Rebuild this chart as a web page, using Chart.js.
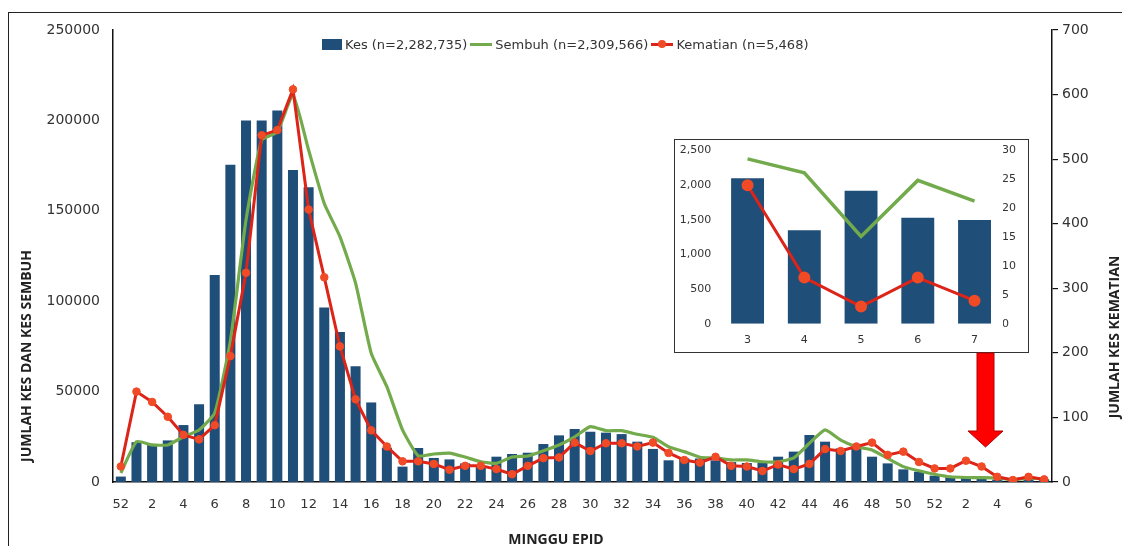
<!DOCTYPE html>
<html>
<head>
<meta charset="utf-8">
<script src="https://cdn.jsdelivr.net/npm/chart.js@4.4.1/dist/chart.umd.min.js"></script>
<style>
html, body { margin: 0; padding: 0; background: #fff; }
#wrap { position: relative; width: 1122px; height: 546px; overflow: hidden; }
#main { position: absolute; left: 0; top: 0; }
#frame { position: absolute; left: 8px; top: 12px; width: 1300px; height: 700px;
         border-left: 1.5px solid #222; border-top: 1.5px solid #222; }
#legend { position: absolute; left: 322px; top: 36px; height: 16px; display: flex; align-items: center;
          font: 13px "DejaVu Sans", sans-serif; color: #333; white-space: nowrap; }
#legend .item { display: flex; align-items: center; margin-right: 3px; }
#legend .sw { position: relative; display: inline-block; margin-right: 3px; }
#inset { position: absolute; left: 674px; top: 139px; width: 355px; height: 214px;
         border: 1.5px solid #333; background: #fff; box-sizing: border-box; overflow: hidden; }
#insetCanvas { position: absolute; left: 0; top: -4px; }
#arrow { position: absolute; left: 0; top: 0; }
</style>
</head>
<body>
<div id="wrap">
  <div id="frame"></div>
  <canvas id="main" width="1122" height="546"></canvas>
  <div id="legend"></div>
  <div id="inset"><canvas id="insetCanvas" width="352" height="215"></canvas></div>
  <svg id="arrow" width="1122" height="546">
    <polygon points="977,353 994,353 994,431 1003,431 985.5,447 968,431 977,431" fill="#ff0000" stroke="#b30000" stroke-width="1"/>
  </svg>
</div>
<script>
// minggu epid: 52 (tahun lepas), 1-52, 1-7
var weeks = ['52',
  '1','2','3','4','5','6','7','8','9','10','11','12','13','14','15','16','17','18','19','20',
  '21','22','23','24','25','26','27','28','29','30','31','32','33','34','35','36','37','38','39','40',
  '41','42','43','44','45','46','47','48','49','50','51','52',
  '1','2','3','4','5','6','7'];

var kes = [3000,
  22000, 20500, 23000, 31500, 43000, 114500, 175500, 200000, 200000, 205500,
  172500, 163000, 96500, 83000, 64000, 44000, 19000, 8500, 18800, 13300,
  12500, 10300, 8500, 14000, 15500, 16200, 21000, 25800, 29300, 27800,
  27300, 26500, 22300, 18300, 12000, 13100, 13000, 12000, 11000, 10500,
  10500, 14000, 16800, 26000, 22300, 18600, 19500, 14000, 10300, 7000,
  5700, 3500,
  2800, 2500, 2100, 1350, 1920, 1530, 1500];

var sembuh = [5000,
  22300, 20500, 20500, 25000, 28800, 38200, 78000, 145000, 189000, 193700,
  214000, 183600, 154000, 135700, 110000, 71200, 52700, 28800, 14500, 15500,
  16000, 13800, 11200, 10300, 13800, 14400, 17300, 20500, 25000, 30600,
  28400, 28400, 26400, 24700, 19500, 16800, 13700, 13300, 12200, 12200,
  11200, 11200, 13300, 21400, 28800, 23200, 19500, 17700, 13100, 8500,
  6200, 4300,
  2900, 2500, 2380, 2180, 1260, 2070, 1770];

var kematian = [24,
  140, 124, 101, 73, 66, 88, 195, 324, 537, 545,
  608, 422, 317, 210, 128, 80, 55, 32, 32, 28,
  19, 25, 25, 20, 12, 25, 37, 38, 61, 48,
  60, 60, 55, 61, 45, 34, 30, 39, 25, 24,
  17, 27, 20, 28, 51, 48, 55, 61, 42, 47,
  31, 21,
  21, 33, 24, 8, 3, 8, 4];

// carta kecil: minggu 3-7
var insetWeeks = ['3','4','5','6','7'];
var insetKes = [2100, 1350, 1920, 1530, 1500];
var insetSembuh = [2380, 2180, 1260, 2070, 1770];
var insetKematian = [24, 8, 3, 8, 4];

var seriesNames = ['Kes (n=2,282,735)', 'Sembuh (n=2,309,566)', 'Kematian (n=5,468)'];
var titleX = 'MINGGU EPID';
var titleLeft = 'JUMLAH KES DAN KES SEMBUH';
var titleRight = 'JUMLAH KES KEMATIAN';

var biru = '#1f4e79';
var hijau = '#72aa4c';
var merah = '#dc2418';
var merahTitik = '#f04a26';

Chart.defaults.font.family = '"DejaVu Sans", sans-serif';
Chart.defaults.color = '#333';

var axisTitles = {
  id: 'axisTitles',
  afterDraw: function(chart) {
    var ctx = chart.ctx;
    ctx.save();
    ctx.fillStyle = '#222';
    ctx.font = 'bold 14px "Open Sans", sans-serif';
    ctx.textAlign = 'center';
    ctx.textBaseline = 'middle';
    ctx.fillText(titleX, 556, 540);
    ctx.translate(27, 356);
    ctx.rotate(-Math.PI / 2);
    ctx.fillText(titleLeft, 0, 0);
    ctx.restore();
    ctx.save();
    ctx.fillStyle = '#222';
    ctx.font = 'bold 14px "Open Sans", sans-serif';
    ctx.textAlign = 'center';
    ctx.textBaseline = 'middle';
    ctx.translate(1115, 337);
    ctx.rotate(-Math.PI / 2);
    ctx.fillText(titleRight, 0, 0);
    ctx.restore();
  }
};

// legenda
var legend = document.getElementById('legend');
var sw = [
  '<span class="sw" style="width:20px;height:11px;background:' + biru + '"></span>',
  '<span class="sw" style="width:22px;height:3px;background:' + hijau + '"></span>',
  '<span class="sw" style="width:22px;height:3px;background:' + merah + '"><span style="position:absolute;left:7px;top:-3px;width:8px;height:8px;border-radius:50%;background:' + merahTitik + '"></span></span>'
];
for (var i = 0; i < seriesNames.length; i++) {
  legend.innerHTML += '<span class="item">' + sw[i] + seriesNames[i] + '</span>';
}

new Chart(document.getElementById('main'), {
  data: {
    labels: weeks,
    datasets: [
      {
        type: 'line', label: seriesNames[2], data: kematian, yAxisID: 'y1',
        borderColor: merah, borderWidth: 3, tension: 0,
        pointRadius: 3.8, pointBackgroundColor: merahTitik, pointBorderColor: merahTitik, pointBorderWidth: 1,
        order: 0
      },
      {
        type: 'line', label: seriesNames[1], data: sembuh, yAxisID: 'y',
        borderColor: hijau, borderWidth: 3.2, tension: 0.15, pointRadius: 0,
        order: 1
      },
      {
        type: 'bar', label: seriesNames[0], data: kes, yAxisID: 'y',
        backgroundColor: biru, barPercentage: 0.64, categoryPercentage: 1,
        order: 2
      }
    ]
  },
  options: {
    responsive: false,
    animation: false,
    layout: { padding: { top: 30, left: 0, right: 0, bottom: 0 } },
    plugins: { legend: { display: false }, tooltip: { enabled: false } },
    scales: {
      x: {
        grid: { display: false, drawTicks: false },
        border: { color: '#111', width: 1.5 },
        ticks: {
          autoSkip: false, maxRotation: 0, padding: 15,
          font: { size: 13 }, color: '#333',
          callback: function(v, i) { return i % 2 === 0 ? weeks[i] : ''; }
        },
        afterFit: function(s) { s.height = 64; }
      },
      y: {
        position: 'left', min: 0, max: 250000,
        grid: { display: false, drawTicks: false },
        border: { color: '#111', width: 1.5 },
        ticks: { stepSize: 50000, padding: 13, font: { size: 14 }, color: '#333',
                 callback: function(v) { return String(v); } },
        afterFit: function(s) { s.width = 113; }
      },
      y1: {
        position: 'right', min: 0, max: 700,
        grid: { drawOnChartArea: false, drawTicks: true, tickLength: 6, color: '#111', lineWidth: 1.2 },
        border: { color: '#111', width: 1.5 },
        ticks: { stepSize: 100, padding: 4, font: { size: 14 }, color: '#333' },
        afterFit: function(s) { s.width = 70; }
      }
    }
  },
  plugins: [axisTitles]
});

new Chart(document.getElementById('insetCanvas'), {
  data: {
    labels: insetWeeks,
    datasets: [
      {
        type: 'line', data: insetKematian, yAxisID: 'y1',
        borderColor: merah, borderWidth: 3, tension: 0,
        pointRadius: 4.5, pointBackgroundColor: merahTitik, pointBorderColor: merahTitik,
        order: 0
      },
      {
        type: 'line', data: insetSembuh, yAxisID: 'y',
        borderColor: hijau, borderWidth: 3.5, tension: 0, pointRadius: 0,
        order: 1
      },
      {
        type: 'bar', data: insetKes, yAxisID: 'y',
        backgroundColor: biru, barPercentage: 0.58, categoryPercentage: 1,
        order: 2
      }
    ]
  },
  options: {
    responsive: false,
    animation: false,
    layout: { padding: { top: 0, left: 0, right: 0, bottom: 0 } },
    plugins: { legend: { display: false }, tooltip: { enabled: false } },
    scales: {
      x: {
        grid: { display: false, drawTicks: false },
        border: { display: false },
        ticks: { padding: 10, font: { size: 11 }, color: '#333' },
        afterFit: function(s) { s.height = 27.2; }
      },
      y: {
        position: 'left', min: 0, max: 2500,
        grid: { display: false, drawTicks: false },
        border: { display: false },
        ticks: { stepSize: 500, padding: 8, font: { size: 11 }, color: '#333' },
        afterFit: function(s) { s.width = 44.2; }
      },
      y1: {
        position: 'right', min: 0, max: 30,
        grid: { display: false, drawTicks: false },
        border: { display: false },
        ticks: { stepSize: 5, padding: -1, font: { size: 11 }, color: '#333' },
        afterFit: function(s) { s.width = 24.1; }
      }
    }
  }
});
</script>
</body>
</html>
